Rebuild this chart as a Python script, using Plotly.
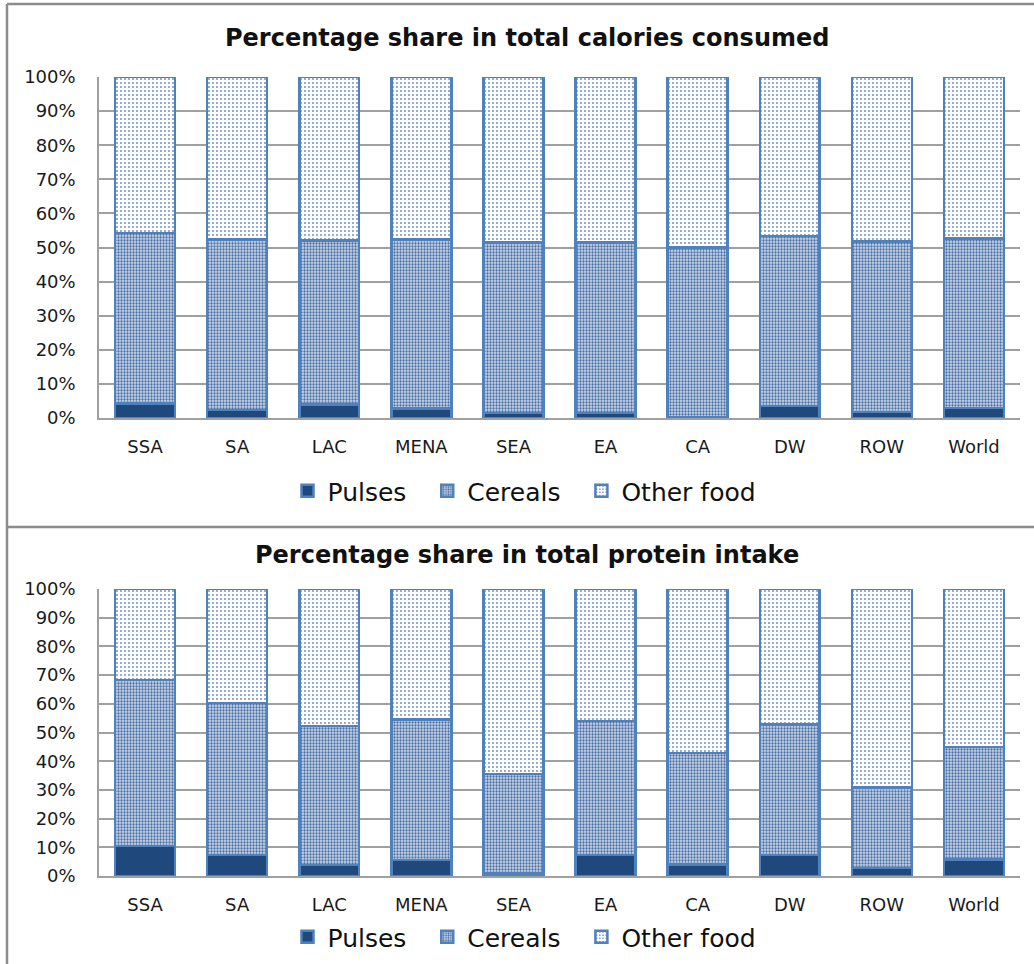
import plotly.graph_objects as go

# regioes
regioes = ["SSA", "SA", "LAC", "MENA", "SEA", "EA", "CA", "DW", "ROW", "World"]

# participacao nas calorias (%)
cal_pulses = [4.3, 2.3, 4.0, 2.8, 1.5, 1.5, 0.3, 3.5, 1.8, 3.0]
cal_cereais = [50.0, 50.1, 48.0, 49.6, 49.9, 49.9, 49.7, 49.9, 50.0, 49.7]
cal_outros = [45.7, 47.6, 48.0, 47.6, 48.6, 48.6, 50.0, 46.6, 48.2, 47.3]

# participacao na proteina (%)
prot_pulses = [10.5, 7.3, 3.8, 5.5, 0.8, 7.3, 4.0, 7.3, 2.8, 5.7]
prot_cereais = [57.8, 53.0, 48.4, 49.0, 34.7, 46.7, 38.8, 45.5, 28.0, 39.3]
prot_outros = [31.7, 39.7, 47.8, 45.5, 64.5, 46.0, 57.2, 47.2, 69.2, 55.0]

W, H = 1034, 964
azul_escuro = "#1F497D"
azul_borda = "#4F81BD"
fonte = "DejaVu Sans"

estilos = {
    "Pulses": dict(color=azul_escuro, line=dict(color=azul_borda, width=2.5)),
    "Cereals": dict(color="#C3D0E3", line=dict(color=azul_borda, width=2.5),
                    pattern=dict(shape=".", fgcolor="#4A6FA5", bgcolor="#CBD6E8",
                                 size=3, solidity=0.45, fillmode="replace")),
    "Other food": dict(color="white", line=dict(color=azul_borda, width=2.5),
                       pattern=dict(shape=".", fgcolor="#6A8CC2", bgcolor="white",
                                    size=4, solidity=0.18, fillmode="replace")),
}

fig = go.Figure()

paineis = [
    ("x", "y", "legend", [cal_pulses, cal_cereais, cal_outros]),
    ("x2", "y2", "legend2", [prot_pulses, prot_cereais, prot_outros]),
]
for xa, ya, leg, series in paineis:
    for nome, vals in zip(["Pulses", "Cereals", "Other food"], series):
        fig.add_trace(go.Bar(x=regioes, y=[v / 100 for v in vals], name=nome + "\u00a0\u00a0",
                             marker=estilos[nome], xaxis=xa, yaxis=ya, legend=leg))


def ypap(py):
    return 1 - py / H


eixo_x = dict(showgrid=False, showline=True, linecolor="#A0A0A0", linewidth=1.5,
              ticks="", ticklabelstandoff=12,
              tickfont=dict(family=fonte, size=18, color="#1a1a1a"),
              domain=[99 / W, 1020 / W])
eixo_y = dict(range=[0, 1], dtick=0.1, tickformat=".0%", showgrid=True,
              gridcolor="#A0A0A0", gridwidth=1.5, showline=True,
              linecolor="#A0A0A0", linewidth=1.5, ticks="", ticklabelstandoff=18,
              tickfont=dict(family=fonte, size=18, color="#1a1a1a"), zeroline=False)

leg_base = dict(orientation="h", x=532 / W, xanchor="center", yanchor="middle",
                font=dict(family=fonte, size=25, color="#111"), itemwidth=30,
                traceorder="normal")

fig.update_layout(
    width=W, height=H,
    margin=dict(l=0, r=0, t=0, b=0, autoexpand=False),
    paper_bgcolor="white", plot_bgcolor="white",
    barmode="stack", bargap=0.35,
    xaxis=dict(eixo_x, anchor="y"),
    yaxis=dict(eixo_y, domain=[ypap(418), ypap(77)], anchor="x"),
    xaxis2=dict(eixo_x, anchor="y2"),
    yaxis2=dict(eixo_y, domain=[ypap(876), ypap(589)], anchor="x2"),
    legend=dict(leg_base, y=ypap(491)),
    legend2=dict(leg_base, y=ypap(937)),
)

# titulos
fig.add_annotation(text="<b>Percentage share in total calories consumed</b>",
                   xref="paper", yref="paper", x=527 / W, y=ypap(38), showarrow=False,
                   xanchor="center", yanchor="middle",
                   font=dict(family=fonte, size=24, color="#111"))
fig.add_annotation(text="<b>Percentage share in total protein intake</b>",
                   xref="paper", yref="paper", x=527 / W, y=ypap(555), showarrow=False,
                   xanchor="center", yanchor="middle",
                   font=dict(family=fonte, size=24, color="#111"))

# molduras dos paineis
cinza = "#8C8C8C"
fig.add_shape(type="line", xref="paper", yref="paper", x0=7 / W, x1=1.01, y0=ypap(4), y1=ypap(4),
              line=dict(color=cinza, width=2.5))
fig.add_shape(type="line", xref="paper", yref="paper", x0=7 / W, x1=1.01, y0=ypap(527), y1=ypap(527),
              line=dict(color=cinza, width=2.5))
fig.add_shape(type="line", xref="paper", yref="paper", x0=7 / W, x1=7 / W, y0=ypap(4), y1=-0.01,
              line=dict(color=cinza, width=2.5))

fig.write_html("out.html", config={"displayModeBar": False},
               post_script="document.body.style.margin='0';")
